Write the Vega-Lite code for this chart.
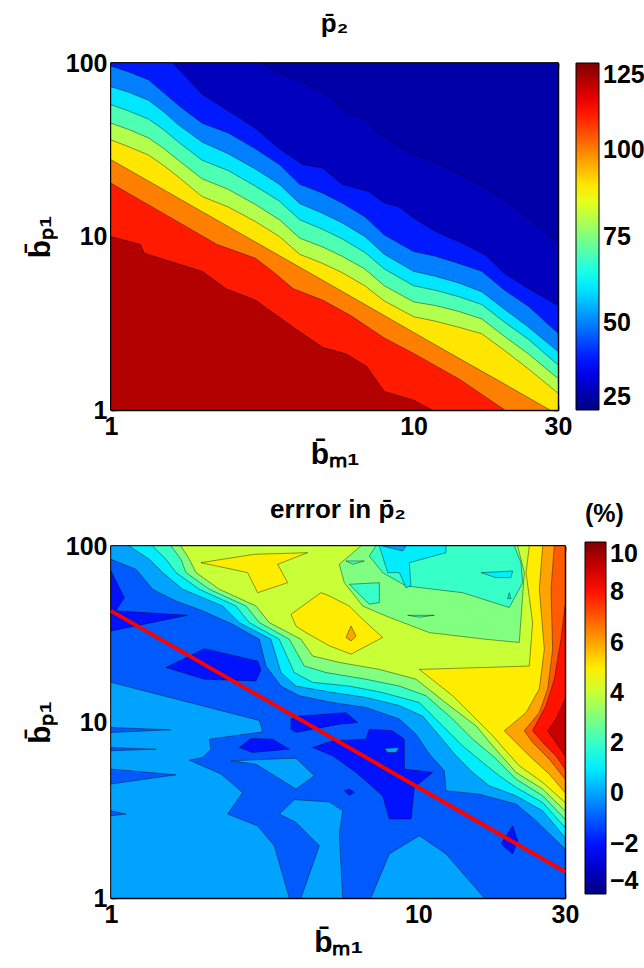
{
"$schema": "https://vega.github.io/schema/vega-lite/v6.json",
"padding": {"top": 10, "left": 24, "right": 0, "bottom": 0},
"config": {
 "font": "Liberation Sans",
 "view": {"stroke": "black", "strokeWidth": 1.5},
 "axis": {"labelFont": "Liberation Sans", "labelFontSize": 25, "labelFontWeight": "bold", "labelColor": "black",
  "titleFont": "Liberation Sans", "titleFontSize": 30, "titleFontWeight": "bold", "titleColor": "black",
  "domainColor": "black", "domainWidth": 1.5, "tickColor": "black", "tickWidth": 1.5, "tickSize": -5,
  "grid": false, "labelFlush": false, "labelOverlap": false, "labelPadding": 9},
 "legend": {"gradientVerticalMaxLength": 400, "labelFont": "Liberation Sans", "labelFontSize": 25, "labelFontWeight": "bold", "labelColor": "black",
  "titleFont": "Liberation Sans", "titleFontSize": 25, "titleFontWeight": "bold", "titleColor": "black"},
 "title": {"font": "Liberation Sans", "fontSize": 26, "fontWeight": "bold", "color": "black"}
},
"datasets": {
"top": [
{"p":"T00","o":0,"x":1,"y":1,"v":29},{"p":"T00","o":1,"x":30,"y":1,"v":29},{"p":"T00","o":2,"x":30,"y":100,"v":29},{"p":"T00","o":3,"x":1,"y":100,"v":29},
{"p":"T30","o":0,"x":1,"y":100,"v":31},{"p":"T30","o":1,"x":3.15,"y":100,"v":31},{"p":"T30","o":2,"x":3.4,"y":91,"v":31},{"p":"T30","o":3,"x":4.3,"y":78,"v":31},{"p":"T30","o":4,"x":5.4,"y":63,"v":31},{"p":"T30","o":5,"x":6.0,"y":51,"v":31},{"p":"T30","o":6,"x":7.0,"y":48,"v":31},{"p":"T30","o":7,"x":7.5,"y":40,"v":31},{"p":"T30","o":8,"x":8.5,"y":35,"v":31},{"p":"T30","o":9,"x":9.9,"y":30,"v":31},{"p":"T30","o":10,"x":11.8,"y":27,"v":31},{"p":"T30","o":11,"x":14.4,"y":22.7,"v":31},{"p":"T30","o":12,"x":17.3,"y":19,"v":31},{"p":"T30","o":13,"x":20,"y":16.3,"v":31},{"p":"T30","o":14,"x":24,"y":12.8,"v":31},{"p":"T30","o":15,"x":30,"y":9.2,"v":31},{"p":"T30","o":16,"x":30,"y":1,"v":31},{"p":"T30","o":17,"x":1,"y":1,"v":31},
{"p":"T40","o":0,"x":1,"y":100,"v":40},{"p":"T40","o":1,"x":1.6,"y":100,"v":40},{"p":"T40","o":2,"x":2.0,"y":66,"v":40},{"p":"T40","o":3,"x":2.4,"y":54,"v":40},{"p":"T40","o":4,"x":3.0,"y":42,"v":40},{"p":"T40","o":5,"x":3.6,"y":32,"v":40},{"p":"T40","o":6,"x":4.3,"y":26,"v":40},{"p":"T40","o":7,"x":5.0,"y":24.8,"v":40},{"p":"T40","o":8,"x":5.8,"y":20,"v":40},{"p":"T40","o":9,"x":7.1,"y":18.2,"v":40},{"p":"T40","o":10,"x":8.0,"y":15.6,"v":40},{"p":"T40","o":11,"x":8.9,"y":14.9,"v":40},{"p":"T40","o":12,"x":10,"y":12.8,"v":40},{"p":"T40","o":13,"x":11.8,"y":10.7,"v":40},{"p":"T40","o":14,"x":14.4,"y":9.2,"v":40},{"p":"T40","o":15,"x":17.3,"y":7.8,"v":40},{"p":"T40","o":16,"x":20,"y":6.1,"v":40},{"p":"T40","o":17,"x":24,"y":5.0,"v":40},{"p":"T40","o":18,"x":30,"y":4.0,"v":40},{"p":"T40","o":19,"x":30,"y":1,"v":40},{"p":"T40","o":20,"x":1,"y":1,"v":40},
{"p":"T50","o":0,"x":1,"y":96,"v":50},{"p":"T50","o":1,"x":1.14,"y":89,"v":50},{"p":"T50","o":2,"x":1.33,"y":80,"v":50},{"p":"T50","o":3,"x":1.5,"y":67,"v":50},{"p":"T50","o":4,"x":1.67,"y":57,"v":50},{"p":"T50","o":5,"x":2.0,"y":45,"v":50},{"p":"T50","o":6,"x":2.44,"y":39.5,"v":50},{"p":"T50","o":7,"x":3.0,"y":32,"v":50},{"p":"T50","o":8,"x":3.6,"y":26,"v":50},{"p":"T50","o":9,"x":4.2,"y":20,"v":50},{"p":"T50","o":10,"x":5.0,"y":17.8,"v":50},{"p":"T50","o":11,"x":5.8,"y":15.6,"v":50},{"p":"T50","o":12,"x":6.9,"y":13,"v":50},{"p":"T50","o":13,"x":8.0,"y":10.2,"v":50},{"p":"T50","o":14,"x":10,"y":8.2,"v":50},{"p":"T50","o":15,"x":11.8,"y":7.7,"v":50},{"p":"T50","o":16,"x":14.1,"y":7.0,"v":50},{"p":"T50","o":17,"x":16.8,"y":6.3,"v":50},{"p":"T50","o":18,"x":20,"y":4.9,"v":50},{"p":"T50","o":19,"x":24,"y":3.95,"v":50},{"p":"T50","o":20,"x":30,"y":2.77,"v":50},{"p":"T50","o":21,"x":30,"y":1,"v":50},{"p":"T50","o":22,"x":1,"y":1,"v":50},
{"p":"T60","o":0,"x":1,"y":73,"v":60},{"p":"T60","o":1,"x":1.14,"y":68,"v":60},{"p":"T60","o":2,"x":1.33,"y":61,"v":60},{"p":"T60","o":3,"x":1.5,"y":52,"v":60},{"p":"T60","o":4,"x":1.67,"y":44,"v":60},{"p":"T60","o":5,"x":2.0,"y":35,"v":60},{"p":"T60","o":6,"x":2.44,"y":30,"v":60},{"p":"T60","o":7,"x":3.0,"y":24.5,"v":60},{"p":"T60","o":8,"x":3.6,"y":20,"v":60},{"p":"T60","o":9,"x":4.2,"y":15.5,"v":60},{"p":"T60","o":10,"x":5.0,"y":13.6,"v":60},{"p":"T60","o":11,"x":5.8,"y":12,"v":60},{"p":"T60","o":12,"x":6.9,"y":10,"v":60},{"p":"T60","o":13,"x":8.0,"y":7.9,"v":60},{"p":"T60","o":14,"x":10,"y":6.3,"v":60},{"p":"T60","o":15,"x":11.8,"y":5.9,"v":60},{"p":"T60","o":16,"x":14.1,"y":5.4,"v":60},{"p":"T60","o":17,"x":16.8,"y":4.8,"v":60},{"p":"T60","o":18,"x":20,"y":3.8,"v":60},{"p":"T60","o":19,"x":24,"y":3.0,"v":60},{"p":"T60","o":20,"x":30,"y":2.17,"v":60},{"p":"T60","o":21,"x":30,"y":1,"v":60},{"p":"T60","o":22,"x":1,"y":1,"v":60},
{"p":"T70","o":0,"x":1,"y":57.5,"v":70},{"p":"T70","o":1,"x":1.14,"y":53,"v":70},{"p":"T70","o":2,"x":1.33,"y":47.5,"v":70},{"p":"T70","o":3,"x":1.5,"y":41,"v":70},{"p":"T70","o":4,"x":1.67,"y":35,"v":70},{"p":"T70","o":5,"x":2.0,"y":27.5,"v":70},{"p":"T70","o":6,"x":2.44,"y":24,"v":70},{"p":"T70","o":7,"x":3.0,"y":19.5,"v":70},{"p":"T70","o":8,"x":3.6,"y":16,"v":70},{"p":"T70","o":9,"x":4.2,"y":12.5,"v":70},{"p":"T70","o":10,"x":5.0,"y":11,"v":70},{"p":"T70","o":11,"x":5.8,"y":9.7,"v":70},{"p":"T70","o":12,"x":6.9,"y":8.1,"v":70},{"p":"T70","o":13,"x":8.0,"y":6.5,"v":70},{"p":"T70","o":14,"x":10,"y":5.2,"v":70},{"p":"T70","o":15,"x":11.8,"y":4.9,"v":70},{"p":"T70","o":16,"x":14.1,"y":4.5,"v":70},{"p":"T70","o":17,"x":16.8,"y":4.05,"v":70},{"p":"T70","o":18,"x":20,"y":3.2,"v":70},{"p":"T70","o":19,"x":24,"y":2.55,"v":70},{"p":"T70","o":20,"x":30,"y":1.82,"v":70},{"p":"T70","o":21,"x":30,"y":1,"v":70},{"p":"T70","o":22,"x":1,"y":1,"v":70},
{"p":"T80","o":0,"x":1,"y":45,"v":80},{"p":"T80","o":1,"x":1.14,"y":41.5,"v":80},{"p":"T80","o":2,"x":1.33,"y":37,"v":80},{"p":"T80","o":3,"x":1.5,"y":32,"v":80},{"p":"T80","o":4,"x":1.67,"y":27.5,"v":80},{"p":"T80","o":5,"x":2.0,"y":21.5,"v":80},{"p":"T80","o":6,"x":2.44,"y":18.7,"v":80},{"p":"T80","o":7,"x":3.0,"y":15.3,"v":80},{"p":"T80","o":8,"x":3.6,"y":12.5,"v":80},{"p":"T80","o":9,"x":4.2,"y":9.8,"v":80},{"p":"T80","o":10,"x":5.0,"y":8.7,"v":80},{"p":"T80","o":11,"x":5.8,"y":7.7,"v":80},{"p":"T80","o":12,"x":6.9,"y":6.5,"v":80},{"p":"T80","o":13,"x":8.0,"y":5.2,"v":80},{"p":"T80","o":14,"x":10,"y":4.2,"v":80},{"p":"T80","o":15,"x":11.8,"y":4.0,"v":80},{"p":"T80","o":16,"x":14.1,"y":3.7,"v":80},{"p":"T80","o":17,"x":16.8,"y":3.35,"v":80},{"p":"T80","o":18,"x":20,"y":2.65,"v":80},{"p":"T80","o":19,"x":24,"y":2.1,"v":80},{"p":"T80","o":20,"x":30,"y":1.52,"v":80},{"p":"T80","o":21,"x":30,"y":1,"v":80},{"p":"T80","o":22,"x":1,"y":1,"v":80},
{"p":"T90","o":0,"x":1,"y":36,"v":90},{"p":"T90","o":1,"x":1.14,"y":33,"v":90},{"p":"T90","o":2,"x":1.33,"y":29.5,"v":90},{"p":"T90","o":3,"x":1.5,"y":25.5,"v":90},{"p":"T90","o":4,"x":1.67,"y":22,"v":90},{"p":"T90","o":5,"x":2.0,"y":17,"v":90},{"p":"T90","o":6,"x":2.44,"y":14.8,"v":90},{"p":"T90","o":7,"x":3.0,"y":12.2,"v":90},{"p":"T90","o":8,"x":3.6,"y":10,"v":90},{"p":"T90","o":9,"x":4.2,"y":7.9,"v":90},{"p":"T90","o":10,"x":5.0,"y":7.0,"v":90},{"p":"T90","o":11,"x":5.8,"y":6.2,"v":90},{"p":"T90","o":12,"x":6.9,"y":5.2,"v":90},{"p":"T90","o":13,"x":8.0,"y":4.25,"v":90},{"p":"T90","o":14,"x":10,"y":3.45,"v":90},{"p":"T90","o":15,"x":11.8,"y":3.25,"v":90},{"p":"T90","o":16,"x":14.1,"y":3.0,"v":90},{"p":"T90","o":17,"x":16.8,"y":2.75,"v":90},{"p":"T90","o":18,"x":20,"y":2.2,"v":90},{"p":"T90","o":19,"x":24,"y":1.72,"v":90},{"p":"T90","o":20,"x":30,"y":1.25,"v":90},{"p":"T90","o":21,"x":30,"y":1,"v":90},{"p":"T90","o":22,"x":1,"y":1,"v":90},
{"p":"T100","o":0,"x":1,"y":27.7,"v":100},{"p":"T100","o":1,"x":2,"y":13.9,"v":100},{"p":"T100","o":2,"x":3,"y":9.3,"v":100},{"p":"T100","o":3,"x":5,"y":5.6,"v":100},{"p":"T100","o":4,"x":7,"y":4.0,"v":100},{"p":"T100","o":5,"x":10,"y":2.8,"v":100},{"p":"T100","o":6,"x":15,"y":1.87,"v":100},{"p":"T100","o":7,"x":20,"y":1.41,"v":100},{"p":"T100","o":8,"x":28.2,"y":1,"v":100},{"p":"T100","o":9,"x":1,"y":1,"v":100},
{"p":"T110","o":0,"x":1,"y":20.3,"v":110},{"p":"T110","o":1,"x":2.24,"y":9.0,"v":110},{"p":"T110","o":2,"x":3.0,"y":7.5,"v":110},{"p":"T110","o":3,"x":3.5,"y":6.1,"v":110},{"p":"T110","o":4,"x":4.0,"y":5.0,"v":110},{"p":"T110","o":5,"x":5.0,"y":4.3,"v":110},{"p":"T110","o":6,"x":6.2,"y":3.5,"v":110},{"p":"T110","o":7,"x":8.0,"y":2.6,"v":110},{"p":"T110","o":8,"x":10,"y":2.12,"v":110},{"p":"T110","o":9,"x":14.3,"y":1.49,"v":110},{"p":"T110","o":10,"x":20,"y":1,"v":110},{"p":"T110","o":11,"x":1,"y":1,"v":110},
{"p":"T120","o":0,"x":1,"y":10,"v":120},{"p":"T120","o":1,"x":1.25,"y":9.0,"v":120},{"p":"T120","o":2,"x":1.29,"y":8.0,"v":120},{"p":"T120","o":3,"x":2.0,"y":6.3,"v":120},{"p":"T120","o":4,"x":2.4,"y":5.0,"v":120},{"p":"T120","o":5,"x":3.0,"y":4.3,"v":120},{"p":"T120","o":6,"x":4.0,"y":3.0,"v":120},{"p":"T120","o":7,"x":5.0,"y":2.3,"v":120},{"p":"T120","o":8,"x":6.0,"y":2.1,"v":120},{"p":"T120","o":9,"x":7.0,"y":1.78,"v":120},{"p":"T120","o":10,"x":8.0,"y":1.28,"v":120},{"p":"T120","o":11,"x":10,"y":1.14,"v":120},{"p":"T120","o":12,"x":11.5,"y":1,"v":120},{"p":"T120","o":13,"x":1,"y":1,"v":120}
],
"bottom": [
{"p":"B0","o":0,"x":1,"y":1,"v":0},{"p":"B0","o":1,"x":30,"y":1,"v":0},{"p":"B0","o":2,"x":30,"y":100,"v":0},{"p":"B0","o":3,"x":1,"y":100,"v":0},
{"p":"M1","o":0,"x":1,"y":84.0,"v":-1},{"p":"M1","o":1,"x":1.206,"y":73.7,"v":-1},{"p":"M1","o":2,"x":1.366,"y":56.8,"v":-1},{"p":"M1","o":3,"x":1.627,"y":48.7,"v":-1},{"p":"M1","o":4,"x":1.987,"y":42.8,"v":-1},{"p":"M1","o":5,"x":2.488,"y":35.9,"v":-1},{"p":"M1","o":6,"x":3.038,"y":29.5,"v":-1},{"p":"M1","o":7,"x":3.194,"y":20.8,"v":-1},{"p":"M1","o":8,"x":3.573,"y":16.0,"v":-1},{"p":"M1","o":9,"x":4.099,"y":14.1,"v":-1},{"p":"M1","o":10,"x":5.263,"y":12.9,"v":-1},{"p":"M1","o":11,"x":6.755,"y":12.1,"v":-1},{"p":"M1","o":12,"x":8.671,"y":10.4,"v":-1},{"p":"M1","o":13,"x":9.824,"y":8.53,"v":-1},{"p":"M1","o":14,"x":10.86,"y":6.57,"v":-1},{"p":"M1","o":15,"x":12.15,"y":5.28,"v":-1},{"p":"M1","o":16,"x":12.3,"y":4.07,"v":-1},{"p":"M1","o":17,"x":15.79,"y":3.89,"v":-1},{"p":"M1","o":18,"x":20.78,"y":3.42,"v":-1},{"p":"M1","o":19,"x":24.14,"y":2.75,"v":-1},{"p":"M1","o":20,"x":30,"y":1.9,"v":-1},{"p":"M1","o":21,"x":30,"y":1,"v":-1},{"p":"M1","o":22,"x":3.803,"y":1,"v":-1},{"p":"M1","o":23,"x":3.399,"y":1.98,"v":-1},{"p":"M1","o":24,"x":3.0,"y":2.57,"v":-1},{"p":"M1","o":25,"x":2.396,"y":3.0,"v":-1},{"p":"M1","o":26,"x":2.682,"y":3.98,"v":-1},{"p":"M1","o":27,"x":2.28,"y":5.06,"v":-1},{"p":"M1","o":28,"x":1.798,"y":6.07,"v":-1},{"p":"M1","o":29,"x":1.987,"y":6.29,"v":-1},{"p":"M1","o":30,"x":2.115,"y":7.01,"v":-1},{"p":"M1","o":31,"x":2.089,"y":7.99,"v":-1},{"p":"M1","o":32,"x":3.115,"y":8.79,"v":-1},{"p":"M1","o":33,"x":3.038,"y":10.2,"v":-1},{"p":"M1","o":34,"x":1,"y":16.8,"v":-1},
{"p":"S1","o":0,"x":1,"y":9.3,"v":-1},{"p":"S1","o":1,"x":1.568,"y":9.03,"v":-1},{"p":"S1","o":2,"x":1,"y":8.72,"v":-1},
{"p":"S2","o":0,"x":1,"y":7.16,"v":-1},{"p":"S2","o":1,"x":1.401,"y":7.01,"v":-1},{"p":"S2","o":2,"x":1,"y":6.86,"v":-1},
{"p":"S3","o":0,"x":1,"y":5.4,"v":-1},{"p":"S3","o":1,"x":1.627,"y":5.01,"v":-1},{"p":"S3","o":2,"x":1,"y":4.44,"v":-1},
{"p":"S4","o":0,"x":1,"y":3.13,"v":-1},{"p":"S4","o":1,"x":1.119,"y":3.0,"v":-1},{"p":"S4","o":2,"x":1,"y":2.93,"v":-1},
{"p":"L1","o":0,"x":2.457,"y":6.02,"v":0},{"p":"L1","o":1,"x":3.998,"y":6.23,"v":0},{"p":"L1","o":2,"x":4.587,"y":4.95,"v":0},{"p":"L1","o":3,"x":3.998,"y":4.16,"v":0},{"p":"L1","o":4,"x":2.963,"y":5.76,"v":0},
{"p":"L2","o":0,"x":4.151,"y":1,"v":0},{"p":"L2","o":1,"x":4.762,"y":1.98,"v":0},{"p":"L2","o":2,"x":3.998,"y":2.69,"v":0},{"p":"L2","o":3,"x":3.529,"y":3.0,"v":0},{"p":"L2","o":4,"x":3.948,"y":3.62,"v":0},{"p":"L2","o":5,"x":5.133,"y":3.52,"v":0},{"p":"L2","o":6,"x":5.672,"y":3.13,"v":0},{"p":"L2","o":7,"x":5.532,"y":2.31,"v":0},{"p":"L2","o":8,"x":5.672,"y":1,"v":0},
{"p":"L3","o":0,"x":7.012,"y":1,"v":0},{"p":"L3","o":1,"x":8.045,"y":1.78,"v":0},{"p":"L3","o":2,"x":10.07,"y":2.26,"v":0},{"p":"L3","o":3,"x":12.3,"y":1.78,"v":0},{"p":"L3","o":4,"x":16.39,"y":1,"v":0},
{"p":"D1","o":0,"x":1,"y":72.1,"v":-2},{"p":"D1","o":1,"x":1.105,"y":50.9,"v":-2},{"p":"D1","o":2,"x":1.038,"y":42.8,"v":-2},{"p":"D1","o":3,"x":1.776,"y":40.4,"v":-2},{"p":"D1","o":4,"x":1,"y":32.9,"v":-2},
{"p":"D2","o":0,"x":1.51,"y":20.4,"v":-2},{"p":"D2","o":1,"x":2.012,"y":26.1,"v":-2},{"p":"D2","o":2,"x":3.0,"y":22.2,"v":-2},{"p":"D2","o":3,"x":3.076,"y":19.9,"v":-2},{"p":"D2","o":4,"x":2.963,"y":17.1,"v":-2},{"p":"D2","o":5,"x":2.012,"y":17.5,"v":-2},
{"p":"D3","o":0,"x":3.851,"y":10.4,"v":-2},{"p":"D3","o":1,"x":4.099,"y":10.8,"v":-2},{"p":"D3","o":2,"x":5.815,"y":11.3,"v":-2},{"p":"D3","o":3,"x":6.346,"y":9.93,"v":-2},{"p":"D3","o":4,"x":5.532,"y":9.72,"v":-2},{"p":"D3","o":5,"x":3.998,"y":8.72,"v":-2},{"p":"D3","o":6,"x":3.851,"y":9.1,"v":-2},
{"p":"D4","o":0,"x":2.615,"y":7.16,"v":-2},{"p":"D4","o":1,"x":2.854,"y":8.06,"v":-2},{"p":"D4","o":2,"x":3.357,"y":7.99,"v":-2},{"p":"D4","o":3,"x":3.803,"y":7.01,"v":-2},{"p":"D4","o":4,"x":2.89,"y":6.71,"v":-2},
{"p":"D5","o":0,"x":4.53,"y":7.16,"v":-2},{"p":"D5","o":1,"x":5.263,"y":7.82,"v":-2},{"p":"D5","o":2,"x":6.755,"y":7.99,"v":-2},{"p":"D5","o":3,"x":6.926,"y":9.1,"v":-2},{"p":"D5","o":4,"x":8.248,"y":8.91,"v":-2},{"p":"D5","o":5,"x":9.002,"y":7.99,"v":-2},{"p":"D5","o":6,"x":9.002,"y":5.4,"v":-2},{"p":"D5","o":7,"x":11.13,"y":5.17,"v":-2},{"p":"D5","o":8,"x":9.702,"y":4.25,"v":-2},{"p":"D5","o":9,"x":9.463,"y":2.81,"v":-2},{"p":"D5","o":10,"x":8.045,"y":2.81,"v":-2},{"p":"D5","o":11,"x":7.653,"y":3.81,"v":-2},{"p":"D5","o":12,"x":6.268,"y":5.17,"v":-2},{"p":"D5","o":13,"x":5.263,"y":6.43,"v":-2},
{"p":"L4","o":0,"x":7.749,"y":7.07,"v":0},{"p":"L4","o":1,"x":8.671,"y":7.16,"v":0},{"p":"L4","o":2,"x":8.457,"y":6.71,"v":0},{"p":"L4","o":3,"x":7.945,"y":6.71,"v":0},
{"p":"D6","o":0,"x":18.57,"y":2.03,"v":-2},{"p":"D6","o":1,"x":20.27,"y":2.57,"v":-2},{"p":"D6","o":2,"x":21.04,"y":2.12,"v":-2},{"p":"D6","o":3,"x":20.27,"y":1.78,"v":-2},
{"p":"D7","o":0,"x":5.743,"y":4.07,"v":-2},{"p":"D7","o":1,"x":5.962,"y":4.16,"v":-2},{"p":"D7","o":2,"x":6.19,"y":3.98,"v":-2},{"p":"D7","o":3,"x":5.962,"y":3.84,"v":-2},
{"p":"U1","o":0,"x":1.147,"y":100,"v":1},{"p":"U1","o":1,"x":1.333,"y":84.0,"v":1},{"p":"U1","o":2,"x":1.473,"y":70.6,"v":1},{"p":"U1","o":3,"x":1.711,"y":56.8,"v":1},{"p":"U1","o":4,"x":2.308,"y":45.6,"v":1},{"p":"U1","o":5,"x":2.615,"y":36.7,"v":1},{"p":"U1","o":6,"x":3.316,"y":29.5,"v":1},{"p":"U1","o":7,"x":3.573,"y":19.1,"v":1},{"p":"U1","o":8,"x":3.998,"y":16.0,"v":1},{"p":"U1","o":9,"x":5.263,"y":14.7,"v":1},{"p":"U1","o":10,"x":6.755,"y":13.8,"v":1},{"p":"U1","o":11,"x":8.671,"y":12.4,"v":1},{"p":"U1","o":12,"x":10.33,"y":10.8,"v":1},{"p":"U1","o":13,"x":11.7,"y":8.35,"v":1},{"p":"U1","o":14,"x":13.26,"y":6.43,"v":1},{"p":"U1","o":15,"x":15.02,"y":5.17,"v":1},{"p":"U1","o":16,"x":17.02,"y":4.34,"v":1},{"p":"U1","o":17,"x":20.78,"y":3.81,"v":1},{"p":"U1","o":18,"x":25.37,"y":3.13,"v":1},{"p":"U1","o":19,"x":30,"y":2.21,"v":1},{"p":"U1","o":20,"x":30,"y":100,"v":1},
{"p":"U2","o":0,"x":1.366,"y":100,"v":2},{"p":"U2","o":1,"x":1.51,"y":84.0,"v":2},{"p":"U2","o":2,"x":1.627,"y":70.6,"v":2},{"p":"U2","o":3,"x":1.938,"y":56.8,"v":2},{"p":"U2","o":4,"x":2.551,"y":45.6,"v":2},{"p":"U2","o":5,"x":2.819,"y":36.7,"v":2},{"p":"U2","o":6,"x":3.529,"y":29.5,"v":2},{"p":"U2","o":7,"x":3.948,"y":19.1,"v":2},{"p":"U2","o":8,"x":4.53,"y":16.8,"v":2},{"p":"U2","o":9,"x":5.962,"y":16.0,"v":2},{"p":"U2","o":10,"x":7.653,"y":14.7,"v":2},{"p":"U2","o":11,"x":10.07,"y":12.9,"v":2},{"p":"U2","o":12,"x":11.99,"y":9.51,"v":2},{"p":"U2","o":13,"x":13.93,"y":7.32,"v":2},{"p":"U2","o":14,"x":16.19,"y":5.89,"v":2},{"p":"U2","o":15,"x":18.34,"y":4.95,"v":2},{"p":"U2","o":16,"x":20.78,"y":4.25,"v":2},{"p":"U2","o":17,"x":25.37,"y":3.49,"v":2},{"p":"U2","o":18,"x":30,"y":2.52,"v":2},{"p":"U2","o":19,"x":30,"y":100,"v":2},
{"p":"U3","o":0,"x":1.568,"y":100,"v":3},{"p":"U3","o":1,"x":1.689,"y":84.0,"v":3},{"p":"U3","o":2,"x":1.754,"y":70.6,"v":3},{"p":"U3","o":3,"x":2.089,"y":56.8,"v":3},{"p":"U3","o":4,"x":2.749,"y":45.6,"v":3},{"p":"U3","o":5,"x":3.038,"y":36.7,"v":3},{"p":"U3","o":6,"x":3.803,"y":29.5,"v":3},{"p":"U3","o":7,"x":4.256,"y":20.8,"v":3},{"p":"U3","o":8,"x":5.006,"y":19.1,"v":3},{"p":"U3","o":9,"x":6.755,"y":17.5,"v":3},{"p":"U3","o":10,"x":8.671,"y":16.0,"v":3},{"p":"U3","o":11,"x":10.59,"y":14.1,"v":3},{"p":"U3","o":12,"x":12.93,"y":10.4,"v":3},{"p":"U3","o":13,"x":15.02,"y":7.99,"v":3},{"p":"U3","o":14,"x":17.45,"y":6.43,"v":3},{"p":"U3","o":15,"x":20.78,"y":4.74,"v":3},{"p":"U3","o":16,"x":25.37,"y":3.81,"v":3},{"p":"U3","o":17,"x":30,"y":2.81,"v":3},{"p":"U3","o":18,"x":30,"y":100,"v":3},
{"p":"U4","o":0,"x":1.689,"y":100,"v":4},{"p":"U4","o":1,"x":1.798,"y":84.0,"v":4},{"p":"U4","o":2,"x":1.89,"y":70.6,"v":4},{"p":"U4","o":3,"x":2.251,"y":56.8,"v":4},{"p":"U4","o":4,"x":2.963,"y":45.6,"v":4},{"p":"U4","o":5,"x":3.274,"y":36.7,"v":4},{"p":"U4","o":6,"x":4.151,"y":29.5,"v":4},{"p":"U4","o":7,"x":4.53,"y":23.7,"v":4},{"p":"U4","o":8,"x":5.532,"y":21.8,"v":4},{"p":"U4","o":9,"x":7.465,"y":19.9,"v":4},{"p":"U4","o":10,"x":9.824,"y":17.5,"v":4},{"p":"U4","o":11,"x":12.61,"y":12.4,"v":4},{"p":"U4","o":12,"x":15.4,"y":9.51,"v":4},{"p":"U4","o":13,"x":17.45,"y":7.32,"v":4},{"p":"U4","o":14,"x":20.78,"y":5.17,"v":4},{"p":"U4","o":15,"x":25.37,"y":4.16,"v":4},{"p":"U4","o":16,"x":30,"y":3.13,"v":4},{"p":"U4","o":17,"x":30,"y":100,"v":4},
{"p":"I3","o":0,"x":6.507,"y":100,"v":3},{"p":"I3","o":1,"x":21.04,"y":100,"v":3},{"p":"I3","o":2,"x":22.12,"y":70.6,"v":3},{"p":"I3","o":3,"x":21.3,"y":28.3,"v":3},{"p":"I3","o":4,"x":16.6,"y":29.5,"v":3},{"p":"I3","o":5,"x":10.86,"y":32.2,"v":3},{"p":"I3","o":6,"x":7.847,"y":40.0,"v":3},{"p":"I3","o":7,"x":6.589,"y":45.6,"v":3},{"p":"I3","o":8,"x":5.743,"y":61.9,"v":3},{"p":"I3","o":9,"x":5.532,"y":78.7,"v":3},
{"p":"I2","o":0,"x":7.28,"y":100,"v":2},{"p":"I2","o":1,"x":20.52,"y":100,"v":2},{"p":"I2","o":2,"x":21.57,"y":80.4,"v":2},{"p":"I2","o":3,"x":21.84,"y":61.9,"v":2},{"p":"I2","o":4,"x":19.77,"y":44.7,"v":2},{"p":"I2","o":5,"x":13.93,"y":54.3,"v":2},{"p":"I2","o":6,"x":9.115,"y":59.3,"v":2},{"p":"I2","o":7,"x":7.653,"y":70.6,"v":2},{"p":"I2","o":8,"x":6.926,"y":87.7,"v":2},
{"p":"I2b","o":0,"x":5.962,"y":60.6,"v":2},{"p":"I2b","o":1,"x":7.465,"y":61.9,"v":2},{"p":"I2b","o":2,"x":7.465,"y":47.7,"v":2},{"p":"I2b","o":3,"x":6.926,"y":46.7,"v":2},
{"p":"I2c","o":0,"x":9.23,"y":40.4,"v":2},{"p":"I2c","o":1,"x":11.27,"y":40.4,"v":2},{"p":"I2c","o":2,"x":10.07,"y":39.4,"v":2},
{"p":"I2d","o":0,"x":5.815,"y":82.2,"v":2},{"p":"I2d","o":1,"x":6.671,"y":82.2,"v":2},{"p":"I2d","o":2,"x":6.113,"y":78.7,"v":2},
{"p":"I1","o":0,"x":7.465,"y":100,"v":1},{"p":"I1","o":1,"x":12.3,"y":100,"v":1},{"p":"I1","o":2,"x":12.3,"y":91.6,"v":1},{"p":"I1","o":3,"x":9.346,"y":80.4,"v":1},{"p":"I1","o":4,"x":9.463,"y":59.3,"v":1},{"p":"I1","o":5,"x":9.115,"y":58.0,"v":1},{"p":"I1","o":6,"x":8.671,"y":70.6,"v":1},{"p":"I1","o":7,"x":7.945,"y":70.6,"v":1},
{"p":"I1b","o":0,"x":15.99,"y":70.6,"v":1},{"p":"I1b","o":1,"x":20.27,"y":72.1,"v":1},{"p":"I1b","o":2,"x":20.01,"y":66.1,"v":1},{"p":"I1b","o":3,"x":17.89,"y":66.1,"v":1},
{"p":"I1c","o":0,"x":19.77,"y":54.3,"v":1},{"p":"I1c","o":1,"x":20.01,"y":50.2,"v":1},{"p":"I1c","o":2,"x":19.52,"y":50.2,"v":1},
{"p":"I0","o":0,"x":7.653,"y":100,"v":0},{"p":"I0","o":1,"x":9.115,"y":100,"v":0},{"p":"I0","o":2,"x":8.889,"y":93.7,"v":0},
{"p":"Y5","o":0,"x":22.96,"y":100,"v":5},{"p":"Y5","o":1,"x":30,"y":100,"v":5},{"p":"Y5","o":2,"x":30,"y":3.49,"v":5},{"p":"Y5","o":3,"x":25.37,"y":4.54,"v":5},{"p":"Y5","o":4,"x":21.3,"y":5.64,"v":5},{"p":"Y5","o":5,"x":19.04,"y":7.01,"v":5},{"p":"Y5","o":6,"x":17.45,"y":8.35,"v":5},{"p":"Y5","o":7,"x":15.4,"y":10.4,"v":5},{"p":"Y5","o":8,"x":12.93,"y":14.1,"v":5},{"p":"Y5","o":9,"x":10.07,"y":19.9,"v":5},{"p":"Y5","o":10,"x":16.19,"y":20.4,"v":5},{"p":"Y5","o":11,"x":22.96,"y":20.8,"v":5},{"p":"Y5","o":12,"x":23.54,"y":36.7,"v":5},{"p":"Y5","o":13,"x":22.4,"y":70.6,"v":5},
{"p":"Y5a","o":0,"x":1.963,"y":80.4,"v":5},{"p":"Y5a","o":1,"x":2.926,"y":89.7,"v":5},{"p":"Y5a","o":2,"x":4.363,"y":91.6,"v":5},{"p":"Y5a","o":3,"x":3.485,"y":78.7,"v":5},{"p":"Y5a","o":4,"x":3.756,"y":61.9,"v":5},{"p":"Y5a","o":5,"x":3.0,"y":54.3,"v":5},{"p":"Y5a","o":6,"x":2.784,"y":70.6,"v":5},
{"p":"Y5b","o":0,"x":3.851,"y":40.9,"v":5},{"p":"Y5b","o":1,"x":4.822,"y":54.3,"v":5},{"p":"Y5b","o":2,"x":5.133,"y":52.0,"v":5},{"p":"Y5b","o":3,"x":5.962,"y":45.6,"v":5},{"p":"Y5b","o":4,"x":6.589,"y":38.3,"v":5},{"p":"Y5b","o":5,"x":7.653,"y":30.2,"v":5},{"p":"Y5b","o":6,"x":6.037,"y":24.3,"v":5},{"p":"Y5b","o":7,"x":5.133,"y":27.1,"v":5},{"p":"Y5b","o":8,"x":4.309,"y":32.2,"v":5},{"p":"Y5b","o":9,"x":3.998,"y":35.1,"v":5},
{"p":"O6a","o":0,"x":5.815,"y":30.2,"v":6},{"p":"O6a","o":1,"x":6.037,"y":35.1,"v":6},{"p":"O6a","o":2,"x":6.268,"y":30.8,"v":6},{"p":"O6a","o":3,"x":6.037,"y":28.9,"v":6},
{"p":"O6","o":0,"x":25.37,"y":100,"v":6},{"p":"O6","o":1,"x":30,"y":100,"v":6},{"p":"O6","o":2,"x":30,"y":3.98,"v":6},{"p":"O6","o":3,"x":26.67,"y":5.06,"v":6},{"p":"O6","o":4,"x":22.96,"y":6.43,"v":6},{"p":"O6","o":5,"x":20.78,"y":7.65,"v":6},{"p":"O6","o":6,"x":19.04,"y":8.91,"v":6},{"p":"O6","o":7,"x":22.4,"y":11.3,"v":6},{"p":"O6","o":8,"x":24.75,"y":15.4,"v":6},{"p":"O6","o":9,"x":25.69,"y":25.9,"v":6},{"p":"O6","o":10,"x":24.75,"y":56.8,"v":6},
{"p":"O7","o":0,"x":27.69,"y":100,"v":7},{"p":"O7","o":1,"x":30,"y":100,"v":7},{"p":"O7","o":2,"x":30,"y":4.74,"v":7},{"p":"O7","o":3,"x":26.67,"y":6.15,"v":7},{"p":"O7","o":4,"x":23.54,"y":7.65,"v":7},{"p":"O7","o":5,"x":22.12,"y":8.91,"v":7},{"p":"O7","o":6,"x":24.75,"y":11.3,"v":7},{"p":"O7","o":7,"x":26.34,"y":15.4,"v":7},{"p":"O7","o":8,"x":27.35,"y":25.9,"v":7},{"p":"O7","o":9,"x":27.01,"y":56.8,"v":7},
{"p":"O8","o":0,"x":30,"y":45.6,"v":8},{"p":"O8","o":1,"x":29.11,"y":29.5,"v":8},{"p":"O8","o":2,"x":27.69,"y":17.5,"v":8},{"p":"O8","o":3,"x":26.01,"y":12.4,"v":8},{"p":"O8","o":4,"x":23.54,"y":8.91,"v":8},{"p":"O8","o":5,"x":25.37,"y":7.65,"v":8},{"p":"O8","o":6,"x":28.04,"y":6.43,"v":8},{"p":"O8","o":7,"x":30,"y":5.4,"v":8},
{"p":"O9","o":0,"x":30,"y":13.5,"v":9},{"p":"O9","o":1,"x":28.04,"y":10.4,"v":9},{"p":"O9","o":2,"x":26.34,"y":8.91,"v":9},{"p":"O9","o":3,"x":28.04,"y":7.65,"v":9},{"p":"O9","o":4,"x":30,"y":6.43,"v":9}
]
},
"spacing": 26,
"resolve": {"scale": {"fill": "independent"}, "legend": {"fill": "independent"}},
"vconcat": [
{
 "width": 447, "height": 347,
 "title": {"text": "p̄₂", "offset": 14},
 "data": {"name": "top"},
 "resolve": {"axis": {"x": "independent", "y": "independent"}},
 "layer": [
  {"mark": {"type": "line", "interpolate": "linear-closed", "stroke": "#000000", "strokeWidth": 0.5, "strokeOpacity": 0.8},
   "encoding": {
    "x": {"field": "x", "type": "quantitative", "scale": {"type": "log", "domain": [1, 30], "nice": false},
      "axis": {"orient": "bottom", "values": [1,2,3,4,5,6,7,8,9,10,20,30], "format": "d", "labelExpr": "indexof([1,10,30], datum.value) >= 0 ? datum.label : ''", "title": "b̄ₘ₁", "titlePadding": 0}},
    "y": {"field": "y", "type": "quantitative", "scale": {"type": "log", "domain": [1, 100], "nice": false},
      "axis": {"orient": "left", "values": [1,2,3,4,5,6,7,8,9,10,20,30,40,50,60,70,80,90,100], "format": "d", "labelExpr": "indexof([1,10,100], datum.value) >= 0 ? datum.label : ''", "title": "b̄ₚ₁", "titlePadding": 10}},
    "fill": {"field": "v", "type": "quantitative",
      "scale": {"domain": [25, 37.5, 62.5, 87.5, 112.5, 125], "range": ["#000080", "#0000ff", "#00ffff", "#ffff00", "#ff0000", "#800000"], "interpolate": "rgb"},
      "legend": {"orient": "right", "offset": 17, "type": "gradient", "direction": "vertical", "gradientLength": 347, "gradientThickness": 23, "values": [25, 50, 75, 100, 125], "format": "d", "title": null, "labelOffset": 4, "labelBaseline": "middle", "labelOverlap": false, "gradientStrokeColor": "black", "gradientStrokeWidth": 1}},
    "detail": {"field": "p"},
    "order": {"field": "o", "type": "quantitative"}
   }},
  {"mark": {"type": "line", "opacity": 0},
   "encoding": {
    "x": {"field": "x", "type": "quantitative", "axis": {"orient": "top", "values": [1,2,3,4,5,6,7,8,9,10,20,30], "labels": false, "title": null}},
    "y": {"field": "y", "type": "quantitative", "axis": {"orient": "right", "values": [1,2,3,4,5,6,7,8,9,10,20,30,40,50,60,70,80,90,100], "labels": false, "title": null}},
    "detail": {"field": "p"}
   }}
 ]
},
{
 "width": 454, "height": 352,
 "title": {"text": "errror in p̄₂", "offset": -21, "frame": "group"},
 "data": {"name": "bottom"},
 "resolve": {"axis": {"x": "independent", "y": "independent"}},
 "layer": [
  {"mark": {"type": "line", "interpolate": "linear-closed", "stroke": "#000000", "strokeWidth": 0.5, "strokeOpacity": 0.8},
   "encoding": {
    "x": {"field": "x", "type": "quantitative", "scale": {"type": "log", "domain": [1, 30], "nice": false},
      "axis": {"orient": "bottom", "values": [1,2,3,4,5,6,7,8,9,10,20,30], "format": "d", "labelExpr": "indexof([1,10,30], datum.value) >= 0 ? datum.label : ''", "title": "b̄ₘ₁", "titlePadding": 0}},
    "y": {"field": "y", "type": "quantitative", "scale": {"type": "log", "domain": [1, 100], "nice": false},
      "axis": {"orient": "left", "values": [1,2,3,4,5,6,7,8,9,10,20,30,40,50,60,70,80,90,100], "format": "d", "labelExpr": "indexof([1,10,100], datum.value) >= 0 ? datum.label : ''", "title": "b̄ₚ₁", "titlePadding": 10}},
    "fill": {"field": "v", "type": "quantitative",
      "scale": {"domain": [-4, -2.25, 1.25, 4.75, 8.25, 10], "range": ["#000080", "#0000ff", "#00ffff", "#ffff00", "#ff0000", "#800000"], "interpolate": "rgb"},
      "legend": {"orient": "none", "legendX": 474, "legendY": -44, "type": "gradient", "direction": "vertical", "gradientLength": 352, "gradientThickness": 21, "values": [-4, -2, 0, 2, 4, 6, 8, 10], "format": "d", "title": "(%)", "titlePadding": 15, "labelOffset": 4, "labelBaseline": "middle", "labelOverlap": false, "gradientStrokeColor": "black", "gradientStrokeWidth": 1}},
    "detail": {"field": "p"},
    "order": {"field": "o", "type": "quantitative"}
   }},
  {"data": {"values": [{"x": 1, "y": 42.8}, {"x": 30, "y": 1.41}]},
   "mark": {"type": "line", "color": "#ff0000", "strokeWidth": 4},
   "encoding": {
    "x": {"field": "x", "type": "quantitative", "axis": {"orient": "top", "values": [1,2,3,4,5,6,7,8,9,10,20,30], "labels": false, "title": null}},
    "y": {"field": "y", "type": "quantitative", "axis": {"orient": "right", "values": [1,2,3,4,5,6,7,8,9,10,20,30,40,50,60,70,80,90,100], "labels": false, "title": null}}
   }}
 ]
}
]
}
